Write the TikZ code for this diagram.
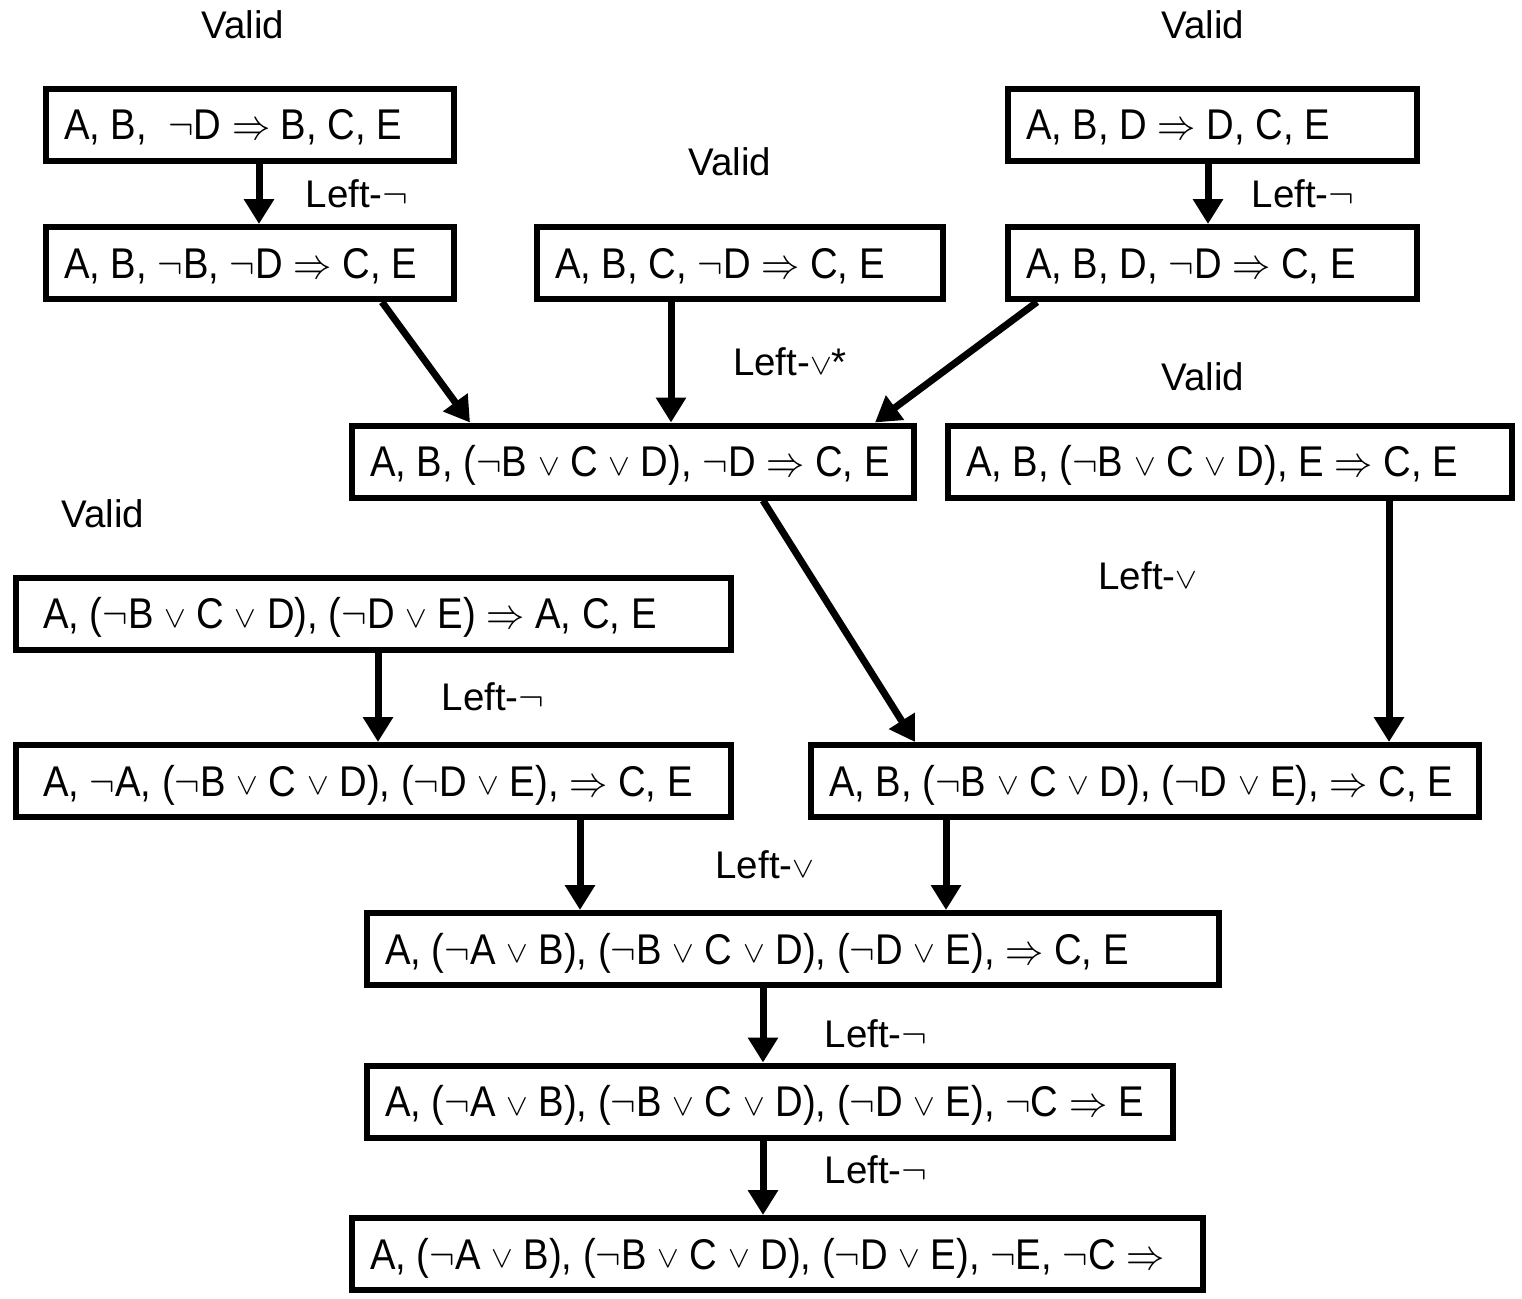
\RequirePackage{fix-cm}
\documentclass[tikz,border=0pt]{standalone}
\usepackage{graphicx}
\usepackage{fontspec}
\setmainfont{Liberation Sans}
\usetikzlibrary{arrows.meta}

\newcommand\lblfont{\fontsize{38.5}{46}\selectfont}
% sequent text: slightly condensed, taller type, natural word spaces
\newcommand\sq[1]{\scalebox{0.89}[1]{\fontsize{43}{50}\selectfont
  \spaceskip=0pt \xspaceskip=0pt #1}}
\newcommand\myneg{$\neg$}
\newcommand\myor{\raisebox{1.5pt}{\scalebox{0.85}[0.7]{$\vee$}}}
\newcommand\lblor{\raisebox{1pt}{\scalebox{0.85}[0.75]{$\vee$}}}
\newcommand\myimp{$\Rightarrow$}

\tikzset{
  seq/.style={draw, line width=6pt, minimum height=72pt, inner xsep=18pt,
    inner ysep=0pt, text height=30pt, text depth=0pt, align=left,
    text width=#1},
  lbl/.style={font=\lblfont, inner sep=0pt},
  arr/.style={line width=7pt, -{Triangle[length=25pt,width=29pt]}}
}

\begin{document}
\begin{tikzpicture}[x=1pt,y=-1pt]
\useasboundingbox (0,0) rectangle (1522,1298);

% sequents
\node[seq=372pt] (b1)  at (250,124.5)  {\sq{A, B,~~\myneg{}D \myimp{} B, C, E}};
\node[seq=372pt] (b2)  at (250,263)    {\sq{A, B, \myneg{}B, \myneg{}D \myimp{} C, E}};
\node[seq=370pt] (b3)  at (740,263)    {\sq{A, B, C, \myneg{}D \myimp{} C, E}};
\node[seq=373pt] (b4)  at (1212.5,124.5) {\sq{A, B, D \myimp{} D, C, E}};
\node[seq=373pt] (b5)  at (1212.5,263) {\sq{A, B, D, \myneg{}D \myimp{} C, E}};
\node[seq=526pt] (b6)  at (633,461.5)  {\sq{A, B, (\myneg{}B \myor{} C \myor{} D), \myneg{}D \myimp{} C, E}};
\node[seq=528pt] (b7)  at (1230,461.5) {\sq{A, B, (\myneg{}B \myor{} C \myor{} D), E \myimp{} C, E}};
\node[seq=661pt, inner xsep=27pt] (b8)  at (373.5,613.5) {\sq{A, (\myneg{}B \myor{} C \myor{} D), (\myneg{}D \myor{} E) \myimp{} A, C, E}};
\node[seq=661pt, inner xsep=27pt] (b9)  at (373.5,781)  {\sq{A, \myneg{}A, (\myneg{}B \myor{} C \myor{} D), (\myneg{}D \myor{} E), \myimp{} C, E}};
\node[seq=632pt] (b10) at (1145,781)   {\sq{A, B, (\myneg{}B \myor{} C \myor{} D), (\myneg{}D \myor{} E), \myimp{} C, E}};
\node[seq=816pt] (b11) at (793,949)    {\sq{A, (\myneg{}A \myor{} B), (\myneg{}B \myor{} C \myor{} D), (\myneg{}D \myor{} E), \myimp{} C, E}};
\node[seq=770pt] (b12) at (770,1101.5) {\sq{A, (\myneg{}A \myor{} B), (\myneg{}B \myor{} C \myor{} D), (\myneg{}D \myor{} E), \myneg{}C \myimp{} E}};
\node[seq=815pt] (b13) at (777.5,1254) {\sq{A, (\myneg{}A \myor{} B), (\myneg{}B \myor{} C \myor{} D), (\myneg{}D \myor{} E), \myneg{}E, \myneg{}C \myimp}};

% annotations
\node[lbl] (v1) at (243,25)   {Valid};
\node[lbl] (v2) at (1203,25)  {Valid};
\node[lbl] (v3) at (730,162)  {Valid};
\node[lbl] (v4) at (1203,377) {Valid};
\node[lbl] (v5) at (103,514)  {Valid};
\node[lbl] (r1) at (357,194)  {Left-\myneg};
\node[lbl] (r2) at (1303,194) {Left-\myneg};
\node[lbl] (r3) at (790,362)  {Left-\lblor*};
\node[lbl] (r4) at (1148,576) {Left-\lblor};
\node[lbl] (r5) at (493,697)  {Left-\myneg};
\node[lbl] (r6) at (765,865)  {Left-\lblor};
\node[lbl] (r7) at (876,1034) {Left-\myneg};
\node[lbl] (r8) at (876,1170) {Left-\myneg};

% inference steps
\draw[arr] ([xshift=9]b1.south) -- ([xshift=9]b2.north);
\draw[arr] ([xshift=-4.5]b4.south) -- ([xshift=-4.5]b5.north);
\draw[arr] ([xshift=132]b2.south) -- ([xshift=-163]b6.north);
\draw[arr] ([xshift=-69]b3.south) -- ([xshift=38]b6.north);
\draw[arr] ([xshift=-175.5]b5.south) -- ([xshift=242]b6.north);
\draw[arr] ([xshift=130]b6.south) -- ([xshift=-230]b10.north);
\draw[arr] ([xshift=159]b7.south) -- ([xshift=244]b10.north);
\draw[arr] ([xshift=4.5]b8.south) -- ([xshift=4.5]b9.north);
\draw[arr] ([xshift=206.5]b9.south) -- ([xshift=-213]b11.north);
\draw[arr] ([xshift=-199]b10.south) -- ([xshift=153]b11.north);
\draw[arr] ([xshift=-30]b11.south) -- ([xshift=-7]b12.north);
\draw[arr] ([xshift=-7]b12.south) -- ([xshift=-14.5]b13.north);
\end{tikzpicture}
\end{document}
